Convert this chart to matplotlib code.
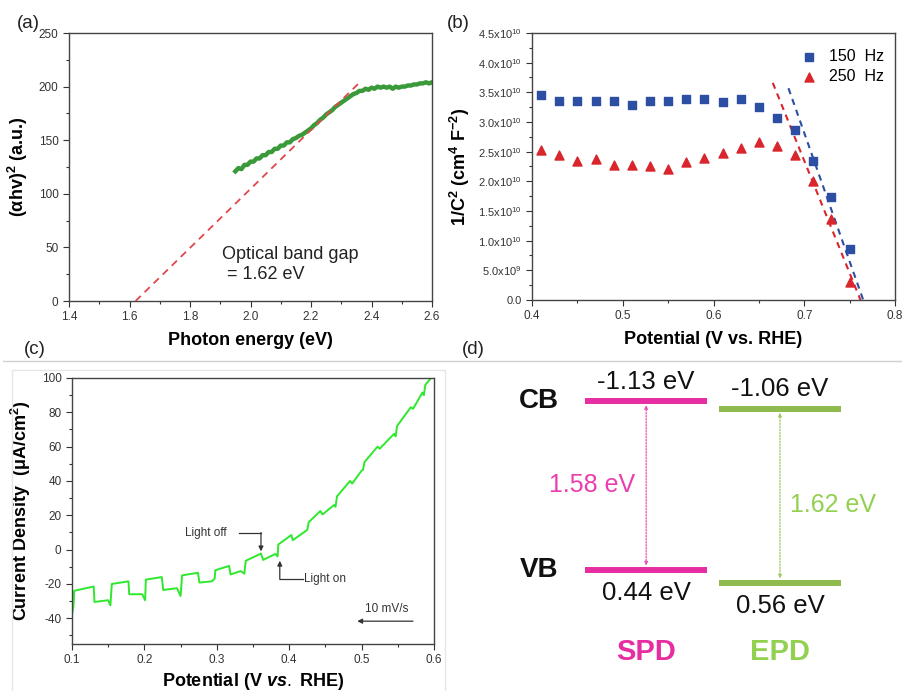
import matplotlib
matplotlib.use("Agg")
import matplotlib.pyplot as plt
import numpy as np
from matplotlib.lines import Line2D
from matplotlib.patches import Rectangle
from matplotlib.ticker import MultipleLocator, FuncFormatter

plt.rcParams["font.family"] = ["Liberation Sans", "DejaVu Sans"]
plt.rcParams["mathtext.fontset"] = "custom"
plt.rcParams["mathtext.rm"] = "Liberation Sans"
plt.rcParams["mathtext.bf"] = "Liberation Sans:bold"
plt.rcParams["mathtext.it"] = "Liberation Sans:italic:bold"
plt.rcParams["axes.unicode_minus"] = False

# ---------------- data ----------------
# (a) Tauc plot
tauc_energy = [1.95, 1.96, 1.97, 1.98, 1.99, 2.00, 2.01, 2.02, 2.03, 2.04, 2.05,
               2.06, 2.07, 2.08, 2.09, 2.10, 2.11, 2.12, 2.13, 2.14, 2.15, 2.16,
               2.17, 2.18, 2.19, 2.20, 2.21, 2.22, 2.23, 2.24, 2.25, 2.26, 2.27,
               2.28, 2.29, 2.30, 2.31, 2.32, 2.33, 2.34, 2.35, 2.36, 2.37, 2.38,
               2.39, 2.40, 2.41, 2.42, 2.43, 2.44, 2.45, 2.46, 2.47, 2.48, 2.49,
               2.50, 2.51, 2.52, 2.53, 2.54, 2.55, 2.56, 2.57, 2.58, 2.59, 2.60]
tauc_value = [121, 124, 123, 127, 127, 130, 130, 133, 133, 136, 136,
              139, 139, 142, 142, 145, 145, 148, 148, 151, 152, 154,
              155, 157, 159, 161, 164, 166, 169, 171, 174, 176, 178,
              181, 183, 185, 187, 189, 191, 193, 194, 196, 196, 198,
              197, 199, 198, 200, 199, 200, 199, 200, 198, 200, 199,
              200, 200, 201, 201, 202, 202, 203, 203, 204, 203, 204]
tauc_fit_x = [1.62, 2.365]
tauc_fit_y = [0, 205]

# (b) Mott-Schottky
ms_potential = [0.41, 0.43, 0.45, 0.47, 0.49, 0.51, 0.53, 0.55, 0.57,
                0.59, 0.61, 0.63, 0.65, 0.67, 0.69, 0.71, 0.73, 0.75]
ms_150 = [3.46, 3.36, 3.36, 3.35, 3.36, 3.29, 3.36, 3.36, 3.39,
          3.38, 3.33, 3.39, 3.26, 3.07, 2.86, 2.35, 1.73, 0.855]
ms_250 = [2.53, 2.45, 2.35, 2.38, 2.27, 2.28, 2.26, 2.21, 2.33,
          2.39, 2.48, 2.56, 2.66, 2.59, 2.44, 2.00, 1.37, 0.31]
fit150_x, fit150_y = [0.6826, 0.765], [3.57, 0.0]
fit250_x, fit250_y = [0.6653, 0.762], [3.66, 0.0]

# (c) chopped LSV
lsv_v = [0.100, 0.102, 0.103, 0.130, 0.131, 0.150, 0.153, 0.155, 0.178, 0.179,
         0.197, 0.201, 0.202, 0.224, 0.226, 0.245, 0.250, 0.252, 0.274, 0.276,
         0.293, 0.297, 0.298, 0.317, 0.319, 0.333, 0.338, 0.340, 0.361, 0.364,
         0.381, 0.384, 0.385, 0.403, 0.405, 0.425, 0.427, 0.443, 0.446, 0.462,
         0.464, 0.466, 0.484, 0.487, 0.500, 0.502, 0.504, 0.522, 0.525, 0.545,
         0.547, 0.549, 0.568, 0.571, 0.584, 0.586, 0.588, 0.596]
lsv_j = [-38, -33, -24, -21.5, -30.5, -29.5, -32.5, -20, -18.5, -26,
         -26, -29.5, -17.5, -16, -23.5, -22.5, -27, -15, -13.5, -19.2,
         -18.5, -17, -12, -9.5, -14.5, -12.5, -14, -6.5, -2.3, -6,
         -2.5, -4, 3, 8.5, 5.5, 11.5, 16, 22.5, 20.5, 26,
         25, 31, 40, 38.5, 46, 46.5, 51, 60, 58.8, 67.5,
         66, 72, 83, 82, 91.5, 90, 96, 100]

# (d) band positions (eV)
materials = ["SPD", "EPD"]
cb_levels = [-1.13, -1.06]
vb_levels = [0.44, 0.56]
gap_labels = ["1.58 eV", "1.62 eV"]
cb_labels = ["-1.13 eV", "-1.06 eV"]
vb_labels = ["0.44 eV", "0.56 eV"]

TICK_COLOR = "#333333"


def style_axes(ax):
    ax.tick_params(which="both", direction="out", top=False, right=False,
                   colors=TICK_COLOR, labelsize=8.5)
    ax.tick_params(which="major", length=4, width=0.8)
    ax.tick_params(which="minor", length=2.5, width=0.8)
    for s in ax.spines.values():
        s.set_color("#444444")
        s.set_linewidth(1.0)


fig = plt.figure(figsize=(9.02, 6.91), dpi=100)

# ---------------- (a) ----------------
ax_a = fig.add_axes([69 / 902, 1 - 301 / 691, 363 / 902, 268 / 691])
ax_a.plot(tauc_energy, tauc_value, color="#3a9a3a", lw=3.2, zorder=2,
          solid_joinstyle="round")
ax_a.plot(tauc_fit_x, tauc_fit_y, color="#e0474c", lw=1.3, ls=(0, (4, 3)), zorder=3)
ax_a.set_xlim(1.4, 2.6)
ax_a.set_ylim(0, 250)
ax_a.xaxis.set_major_locator(MultipleLocator(0.2))
ax_a.xaxis.set_minor_locator(MultipleLocator(0.1))
ax_a.yaxis.set_major_locator(MultipleLocator(50))
ax_a.yaxis.set_minor_locator(MultipleLocator(25))
ax_a.xaxis.set_major_formatter(FuncFormatter(lambda v, p: f"{v:.1f}"))
style_axes(ax_a)
ax_a.set_xlabel("Photon energy (eV)", fontsize=13, fontweight="bold", labelpad=6)
ax_a.set_ylabel(r"(αhv)$^\mathbf{2}$ (a.u.)", fontsize=13, fontweight="bold", labelpad=6)
ax_a.text(1.907, 34, "Optical band gap\n = 1.62 eV", fontsize=13, ha="left",
          va="center", linespacing=1.25, color="#222222")

# ---------------- (b) ----------------
ax_b = fig.add_axes([532 / 902, 1 - 300 / 691, 363 / 902, 267 / 691])
ax_b.plot(fit150_x, np.array(fit150_y) * 1e10, color="#2c4fa3", lw=1.5, ls=(0, (3, 2.5)))
ax_b.plot(fit250_x, np.array(fit250_y) * 1e10, color="#d9252c", lw=1.5, ls=(0, (3, 2.5)))
ax_b.scatter(ms_potential, np.array(ms_150) * 1e10, marker="s", s=32,
             color="#2c4fa3", label="150  Hz", zorder=3)
ax_b.scatter(ms_potential, np.array(ms_250) * 1e10, marker="^", s=42,
             color="#d9252c", label="250  Hz", zorder=3)
ax_b.set_xlim(0.4, 0.8)
ax_b.set_ylim(0, 4.5e10)
ax_b.xaxis.set_major_locator(MultipleLocator(0.1))
ax_b.xaxis.set_minor_locator(MultipleLocator(0.05))
ax_b.yaxis.set_major_locator(MultipleLocator(5e9))
ax_b.yaxis.set_minor_locator(MultipleLocator(2.5e9))


def ms_fmt(v, pos):
    if v < 1e8:
        return "0.0" if v > -1e8 else ""
    exp = int(np.floor(np.log10(v) + 1e-9))
    return f"{v / 10 ** exp:.1f}x10$^{{{exp}}}$"


ax_b.yaxis.set_major_formatter(FuncFormatter(ms_fmt))
style_axes(ax_b)
ax_b.tick_params(axis="y", labelsize=8)
ax_b.set_xlabel("Potential (V vs. RHE)", fontsize=13, fontweight="bold", labelpad=6)
ax_b.set_ylabel(r"1/C$^\mathbf{2}$ (cm$^\mathbf{4}$ F$^\mathbf{-2}$)", fontsize=13,
                fontweight="bold", labelpad=4)
ax_b.legend(loc="upper right", frameon=False, fontsize=11.5, handletextpad=0.6,
            borderaxespad=0.2, labelspacing=0.3, handlelength=1.2,
            bbox_to_anchor=(0.995, 0.975))

# ---------------- (c) ----------------
ax_c = fig.add_axes([72 / 902, 1 - 644 / 691, 362 / 902, 266 / 691])
ax_c.plot(lsv_v, lsv_j, color="#2ee82e", lw=1.4)
ax_c.set_xlim(0.1, 0.6)
ax_c.set_ylim(-55, 100)
ax_c.xaxis.set_major_locator(MultipleLocator(0.1))
ax_c.xaxis.set_minor_locator(MultipleLocator(0.05))
ax_c.yaxis.set_major_locator(MultipleLocator(20))
ax_c.yaxis.set_minor_locator(MultipleLocator(10))
ax_c.set_yticks([-40, -20, 0, 20, 40, 60, 80, 100])
style_axes(ax_c)
ax_c.set_xlabel(r"Potential (V $\it{vs.}$ RHE)", fontsize=13, fontweight="bold", labelpad=3)
ax_c.set_ylabel(r"Current Density  (μA/cm$^\mathbf{2}$)", fontsize=13,
                fontweight="bold", labelpad=6)
# annotations
ax_c.text(0.256, 9.5, "Light off", fontsize=8.5, color="#333333", va="center", ha="left")
ax_c.plot([0.331, 0.361], [9.6, 9.6], color="#333333", lw=0.9)
ax_c.annotate("", xy=(0.361, -1.0), xytext=(0.361, 9.9),
              arrowprops=dict(arrowstyle="-|>", color="#333333", lw=0.9,
                              mutation_scale=7, shrinkA=0, shrinkB=0))
ax_c.text(0.421, -17, "Light on", fontsize=8.5, color="#333333", va="center", ha="left")
ax_c.plot([0.387, 0.419], [-17, -17], color="#333333", lw=0.9)
ax_c.annotate("", xy=(0.387, -6.5), xytext=(0.387, -17.3),
              arrowprops=dict(arrowstyle="-|>", color="#333333", lw=0.9,
                              mutation_scale=7, shrinkA=0, shrinkB=0))
ax_c.text(0.534, -34.5, "10 mV/s", fontsize=8.5, color="#333333", ha="center", va="center")
ax_c.annotate("", xy=(0.494, -41.7), xytext=(0.571, -41.7),
              arrowprops=dict(arrowstyle="-|>", color="#333333", lw=0.9,
                              mutation_scale=7, shrinkA=0, shrinkB=0))

# ---------------- (d) ----------------
ax_d = fig.add_axes([450 / 902, 0, 452 / 902, 330 / 691])
ax_d.set_xlim(0, 1)
ax_d.set_ylim(1.568, -1.502)
ax_d.axis("off")
col_x = [0.434, 0.730]
half_w = 0.135
bar_colors = ["#e62ea2", "#8fba4e"]
arrow_colors = ["#ea4fb4", "#9bcc5c"]
gap_colors = ["#e93fae", "#92d050"]
for i, name in enumerate(materials):
    x = col_x[i]
    ax_d.hlines([cb_levels[i], vb_levels[i]], x - half_w, x + half_w,
                color=bar_colors[i], lw=4.3)
    ax_d.annotate("", xy=(x, vb_levels[i]), xytext=(x, cb_levels[i]),
                  arrowprops=dict(arrowstyle="<|-|>", ls=(0, (1.2, 1.2)), lw=0.9,
                                  color=arrow_colors[i], mutation_scale=5,
                                  shrinkA=3, shrinkB=3))
    ax_d.annotate(cb_labels[i], xy=(x, cb_levels[i]), xytext=(0, 14),
                  textcoords="offset points", ha="center", va="center",
                  fontsize=18.5, color="#111111")
    ax_d.annotate(vb_labels[i], xy=(x, vb_levels[i]), xytext=(0, -17),
                  textcoords="offset points", ha="center", va="center",
                  fontsize=18.5, color="#111111")
    ax_d.text(x, 0.118, name, transform=ax_d.get_xaxis_transform(), ha="center",
              va="center", fontsize=21, fontweight="bold", color=gap_colors[i] if i else bar_colors[i])

mid0 = (cb_levels[0] + vb_levels[0]) / 2
mid1 = (cb_levels[1] + vb_levels[1]) / 2
ax_d.annotate(gap_labels[0], xy=(col_x[0], mid0), xytext=(-8, 0), textcoords="offset points",
              ha="right", va="center", fontsize=18, color=gap_colors[0])
ax_d.annotate(gap_labels[1], xy=(col_x[1], mid1), xytext=(7, -7), textcoords="offset points",
              ha="left", va="center", fontsize=18, color=gap_colors[1])
ax_d.annotate("CB", xy=(0.197, cb_levels[0]), ha="center", va="center",
              fontsize=20, fontweight="bold", color="#111111")
ax_d.annotate("VB", xy=(0.197, vb_levels[0]), ha="center", va="center",
              fontsize=20, fontweight="bold", color="#111111")

# ---------------- frame decorations ----------------
fig.add_artist(Line2D([3 / 902, 1], [1 - 361 / 691] * 2, transform=fig.transFigure,
                      color="#d0d0d0", lw=1.0))
fig.add_artist(Rectangle((12 / 902, -0.01), 433 / 902, (691 - 370) / 691 + 0.01,
                         transform=fig.transFigure, fill=False, edgecolor="#e6e6e6", lw=1.0))
for lbl, px, py in [("(a)", 28, 23), ("(b)", 458, 23), ("(c)", 35, 349), ("(d)", 473, 349)]:
    fig.text(px / 902, 1 - py / 691, lbl, fontsize=13.5, ha="center", va="center",
             color="#222222")

fig.savefig("out.png", dpi=100)
